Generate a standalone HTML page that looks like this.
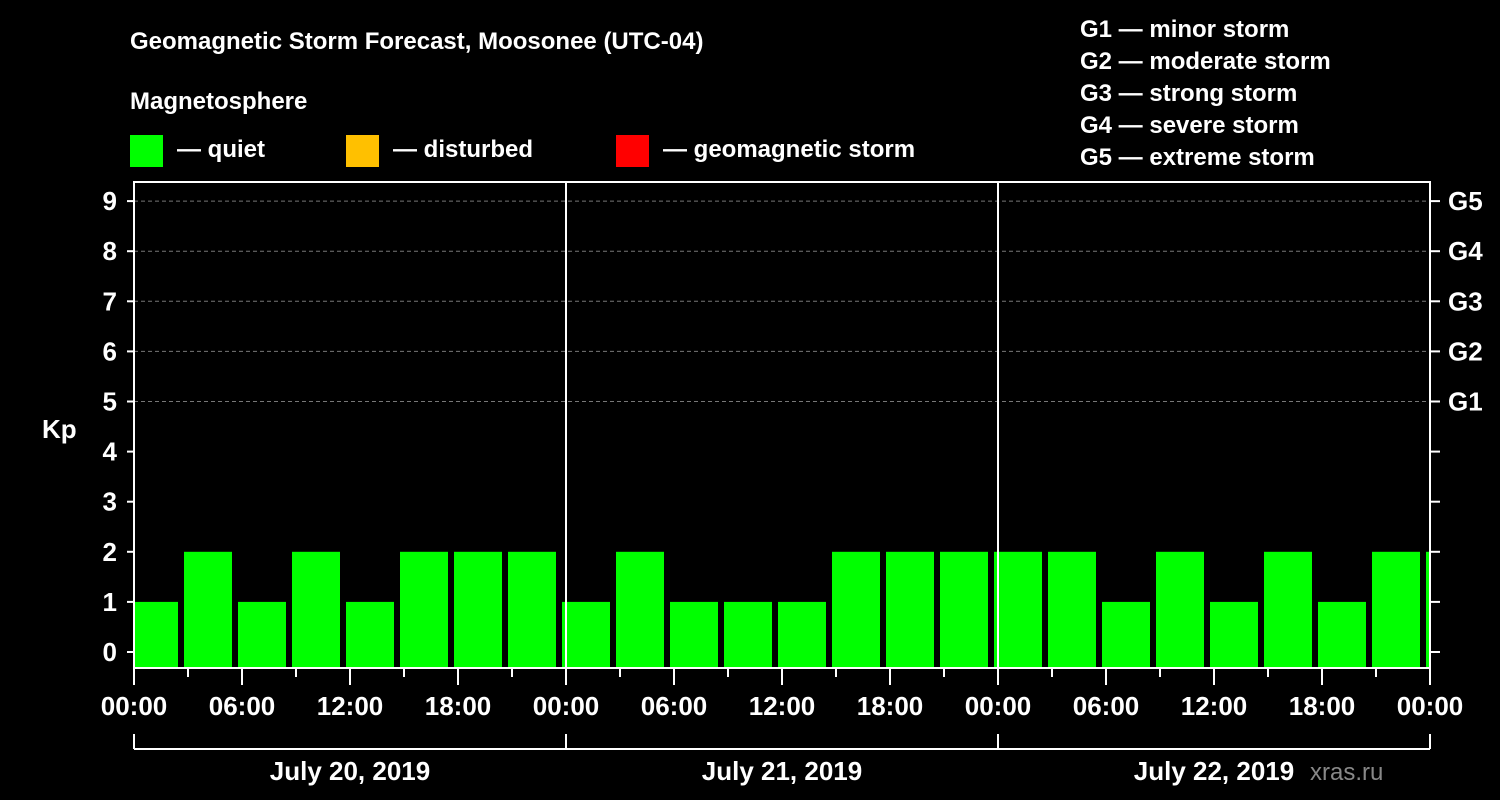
<!DOCTYPE html>
<html><head><meta charset="utf-8"><style>
body{margin:0;background:#000;}
svg{display:block;font-family:"Liberation Sans",Arial,sans-serif;font-weight:bold;}
</style></head><body>
<svg id="c" width="1500" height="800" viewBox="0 0 1500 800">
<rect width="1500" height="800" fill="#000"/>
<text x="130" y="49" fill="#fff" font-size="24">Geomagnetic Storm Forecast, Moosonee (UTC-04)</text>
<text x="130" y="109" fill="#fff" font-size="24">Magnetosphere</text>
<g><rect x="130" y="135" width="33" height="32" fill="#00ff00"/><text x="177" y="157" fill="#fff" font-size="24">— quiet</text></g>
<g><rect x="346" y="135" width="33" height="32" fill="#ffc000"/><text x="393" y="157" fill="#fff" font-size="24">— disturbed</text></g>
<g><rect x="616" y="135" width="33" height="32" fill="#ff0000"/><text x="663" y="157" fill="#fff" font-size="24">— geomagnetic storm</text></g>
<g fill="#fff" font-size="24">
<text x="1080" y="37">G1 — minor storm</text>
<text x="1080" y="69">G2 — moderate storm</text>
<text x="1080" y="101">G3 — strong storm</text>
<text x="1080" y="133">G4 — severe storm</text>
<text x="1080" y="165">G5 — extreme storm</text>
</g>
<text x="1310" y="780" fill="#888" font-size="24" font-weight="normal">xras.ru</text>
<text x="42" y="438" fill="#fff" font-size="26">Kp</text>
<defs><clipPath id="pc"><rect x="134" y="182" width="1296" height="486"/></clipPath></defs>
<g id="grid"></g>
<g id="bars" clip-path="url(#pc)"></g>
<g id="axes"></g>
</svg>
<script>
const values=[1,2,1,2,1,2,2,2,1,2,1,1,1,2,2,2,2,2,1,2,1,2,1,2,2];
const yTicks=[0,1,2,3,4,5,6,7,8,9];
const gLabels=["G1","G2","G3","G4","G5"];
const xLabels=["00:00","06:00","12:00","18:00","00:00","06:00","12:00","18:00","00:00","06:00","12:00","18:00","00:00"];
const dates=["July 20, 2019","July 21, 2019","July 22, 2019"];
const NS="http://www.w3.org/2000/svg";
const X0=134,X1=1430,YT=182,YB=668;
const y=v=>652-v*50.1;
const x=h=>X0+h*(X1-X0)/72;
function el(t,a,p){const e=document.createElementNS(NS,t);for(const k in a)e.setAttribute(k,a[k]);document.getElementById(p).appendChild(e);return e;}
yTicks.forEach(v=>{
 if(v>=5){const g=el('line',{x1:X0,x2:X1,y1:y(v),y2:y(v),stroke:'#777','stroke-dasharray':'4,3'},'grid');
 
 }
 el('line',{x1:127,x2:X0,y1:y(v),y2:y(v),stroke:'#fff','stroke-width':2},'axes');
 el('line',{x1:X1,x2:1440,y1:y(v),y2:y(v),stroke:'#fff','stroke-width':2},'axes');
 const t=el('text',{x:117,y:y(v)+9,fill:'#fff','font-size':26,'text-anchor':'end'},'axes');t.textContent=v;
 
 
 if(v>=5){const r=el('text',{x:1448,y:y(v)+9,fill:'#fff','font-size':26},'axes');r.textContent=gLabels[v-5];
 
 }
});
values.forEach((v,i)=>{
 const cx=x(3*i)+10;
 const b=el('rect',{x:cx-14+0,y:y(v),width:48,height:YB-y(v),fill:'#00ff00'},'bars');
 b.setAttribute('x',cx-14);
 
 
});
el('rect',{x:X0,y:YT,width:X1-X0,height:YB-YT,fill:'none',stroke:'#fff','stroke-width':2},'axes');
[24,48].forEach(h=>el('line',{x1:x(h),x2:x(h),y1:YT,y2:YB,stroke:'#fff','stroke-width':2},'axes'));
for(let h=0;h<=72;h+=3){el('line',{x1:x(h),x2:x(h),y1:YB,y2:h%6==0?685:677,stroke:'#fff','stroke-width':2},'axes');}
xLabels.forEach((l,i)=>{const t=el('text',{x:x(i*6),y:715,fill:'#fff','font-size':26,'text-anchor':'middle'},'axes');t.textContent=l;
 
 });
el('line',{x1:X0,x2:X1,y1:749,y2:749,stroke:'#fff','stroke-width':2},'axes');
[0,24,48,72].forEach(h=>el('line',{x1:x(h),x2:x(h),y1:734,y2:749,stroke:'#fff','stroke-width':2},'axes'));
dates.forEach((d,i)=>{const t=el('text',{x:x(24*i+12),y:780,fill:'#fff','font-size':26,'text-anchor':'middle'},'axes');t.textContent=d;
 
 });
</script>
</body></html>
